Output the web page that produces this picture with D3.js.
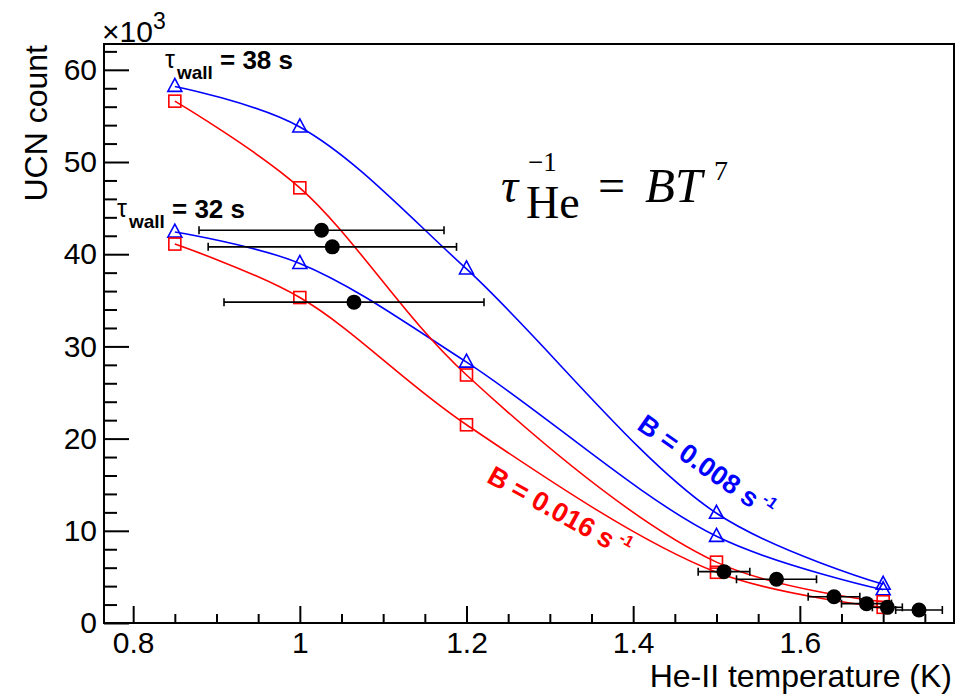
<!DOCTYPE html>
<html><head><meta charset="utf-8">
<script src="https://cdn.jsdelivr.net/npm/d3@7"></script>
<style>body{margin:0;background:#fff}svg{display:block}text{font-family:"Liberation Sans",Arial,sans-serif}text.eq{font-family:"Liberation Serif","DejaVu Serif",serif}</style>
</head><body><svg id="c" width="971" height="698"></svg>
<script>
const temps = [0.85, 1.0, 1.2, 1.5, 1.7];
const blue38 = [58.2, 53.8, 38.4, 11.9, 4.2];
const red38 = [56.6, 47.2, 26.9, 6.6, 2.3];
const blue32 = [42.4, 39.0, 28.3, 9.4, 3.6];
const red32 = [41.1, 35.3, 21.5, 5.5, 1.7];
const measT = [1.026, 1.039, 1.065, 1.509, 1.572, 1.641, 1.680, 1.705, 1.743];
const measCount = [42.6, 40.8, 34.8, 5.57, 4.74, 2.85, 2.1, 1.7, 1.41];
const measErr = [0.147, 0.149, 0.156, 0.031, 0.048, 0.031, 0.03, 0.018, 0.028];
const xMajor = [0.8, 1, 1.2, 1.4, 1.6];
const xTickLabels = ["0.8", "1", "1.2", "1.4", "1.6"];
const yMajor = [0, 10, 20, 30, 40, 50, 60];

const L = 104, R = 954, T = 44, B = 623;
const svg = d3.select("#c");
const x = d3.scaleLinear().domain([0.765, 1.785]).range([L, R]);
const y = d3.scaleLinear().domain([0, 62.8]).range([B, T]);

// minor ticks
const xMinor = d3.range(0.8, 1.78, 0.05).filter(v => !xMajor.some(m => Math.abs(m - v) < 1e-6));
const yMinor = d3.range(0, 63, 2).filter(v => v % 10 !== 0);
svg.append("g").attr("transform", `translate(0,${B})`)
  .call(d3.axisBottom(x).tickValues(xMinor).tickSize(-9).tickFormat(""))
  .call(g => g.select(".domain").remove())
  .selectAll("line").attr("stroke", "#000").attr("stroke-width", 2);
svg.append("g").attr("transform", `translate(${L},0)`)
  .call(d3.axisLeft(y).tickValues(yMinor).tickSize(-13).tickFormat(""))
  .call(g => g.select(".domain").remove())
  .selectAll("line").attr("stroke", "#000").attr("stroke-width", 2);
// major
const xa = svg.append("g").attr("transform", `translate(0,${B})`)
  .call(d3.axisBottom(x).tickValues(xMajor).tickSize(-17).tickPadding(9).tickFormat((d, i) => xTickLabels[i]));
xa.select(".domain").remove();
xa.selectAll("line").attr("stroke", "#000").attr("stroke-width", 2);
xa.selectAll("text").attr("font-size", 30).attr("fill", "#000");
const ya = svg.append("g").attr("transform", `translate(${L},0)`)
  .call(d3.axisLeft(y).tickValues(yMajor).tickSize(-25).tickPadding(7));
ya.select(".domain").remove();
ya.selectAll("line").attr("stroke", "#000").attr("stroke-width", 2);
ya.selectAll("text").attr("font-size", 30).attr("fill", "#000");

// frame
svg.append("rect").attr("x", L).attr("y", T).attr("width", R - L).attr("height", B - T)
  .attr("fill", "none").attr("stroke", "#000").attr("stroke-width", 2);

// curves
const line = d3.line().x(d => x(d[0])).y(d => y(d[1])).curve(d3.curveCatmullRom.alpha(0.5));
const series = [
  {v: blue38, c: "#0000ff", m: "tri"},
  {v: blue32, c: "#0000ff", m: "tri"},
  {v: red38, c: "#ff0000", m: "sq"},
  {v: red32, c: "#ff0000", m: "sq"}
];
series.forEach(s => {
  const pts = temps.map((t, i) => [t, s.v[i]]);
  svg.append("path").attr("d", line(pts)).attr("fill", "none").attr("stroke", s.c).attr("stroke-width", 1.6);
});
series.forEach(s => {
  temps.forEach((t, i) => {
    const cx = x(t), cy = y(s.v[i]);
    if (s.m === "tri") {
      svg.append("path").attr("d", `M${cx},${cy - 8}L${cx + 7},${cy + 5}L${cx - 7},${cy + 5}Z`)
        .attr("fill", "none").attr("stroke", s.c).attr("stroke-width", 1.6);
    } else {
      svg.append("rect").attr("x", cx - 6).attr("y", cy - 6).attr("width", 12).attr("height", 12)
        .attr("fill", "none").attr("stroke", s.c).attr("stroke-width", 1.6);
    }
  });
});

// measurements
const mg = svg.append("g");
measT.forEach((t, i) => {
  const cy = y(measCount[i]), x0 = x(t - measErr[i]), x1 = x(t + measErr[i]);
  mg.append("line").attr("x1", x0).attr("x2", x1).attr("y1", cy).attr("y2", cy).attr("stroke", "#000").attr("stroke-width", 1.6);
  [x0, x1].forEach(xx => mg.append("line").attr("x1", xx).attr("x2", xx).attr("y1", cy - 4).attr("y2", cy + 4).attr("stroke", "#000").attr("stroke-width", 1.6));
});
measT.forEach((t, i) => {
  mg.append("circle").attr("cx", x(t)).attr("cy", y(measCount[i])).attr("r", 7.5).attr("fill", "#000");
});

// axis titles
svg.append("text").attr("x", 952).attr("y", 687).attr("text-anchor", "end").attr("font-size", 32).text("He-II temperature (K)");
svg.append("text").attr("transform", "translate(47,45) rotate(-90)").attr("text-anchor", "end").attr("font-size", 32).text("UCN count");
const ex = svg.append("text").attr("x", 102).attr("y", 42).attr("font-size", 30);
ex.append("tspan").text("×10");
ex.append("tspan").attr("dy", -13).attr("font-size", 23).text("3");

// tau_wall annotations
function tauLabel(x0, yb, val) {
  svg.append("text").attr("x", x0).attr("y", yb - 1).attr("font-size", 25).text("τ");
  svg.append("text").attr("x", x0 + 12).attr("y", yb + 10).attr("font-size", 19).attr("font-weight", "bold").text("wall");
  svg.append("text").attr("x", x0 + 55).attr("y", yb).attr("font-size", 26).attr("font-weight", "bold").text("= " + val + " s");
}
tauLabel(165, 69, 38);
tauLabel(117, 218, 32);

// B labels
function bLabel(cx, cy, ang, txt, col) {
  const t = svg.append("text").attr("transform", `translate(${cx},${cy}) rotate(${ang})`)
    .attr("text-anchor", "middle").attr("font-size", 27).attr("font-weight", "bold").attr("fill", col);
  t.append("tspan").text(txt + " s");
  t.append("tspan").attr("dy", -12).attr("font-size", 16).text(" -1");
}
bLabel(701, 474, 35, "B = 0.008", "#0000ff");
bLabel(555, 520, 29, "B = 0.016", "#ff0000");

// equation
function eq(xp, yp, size, txt, italic) {
  svg.append("text").attr("class", "eq").attr("x", xp).attr("y", yp).attr("font-size", size)
    .attr("font-style", italic ? "italic" : "normal").text(txt);
}
eq(501, 202, 48, "τ", true);
eq(528, 171, 27, "−1", false);
eq(526, 218, 46, "He", false);
eq(598, 202, 48, "=", false);
eq(645, 202, 49, "BT", true);
eq(714, 180, 28, "7", false);
</script></body></html>
